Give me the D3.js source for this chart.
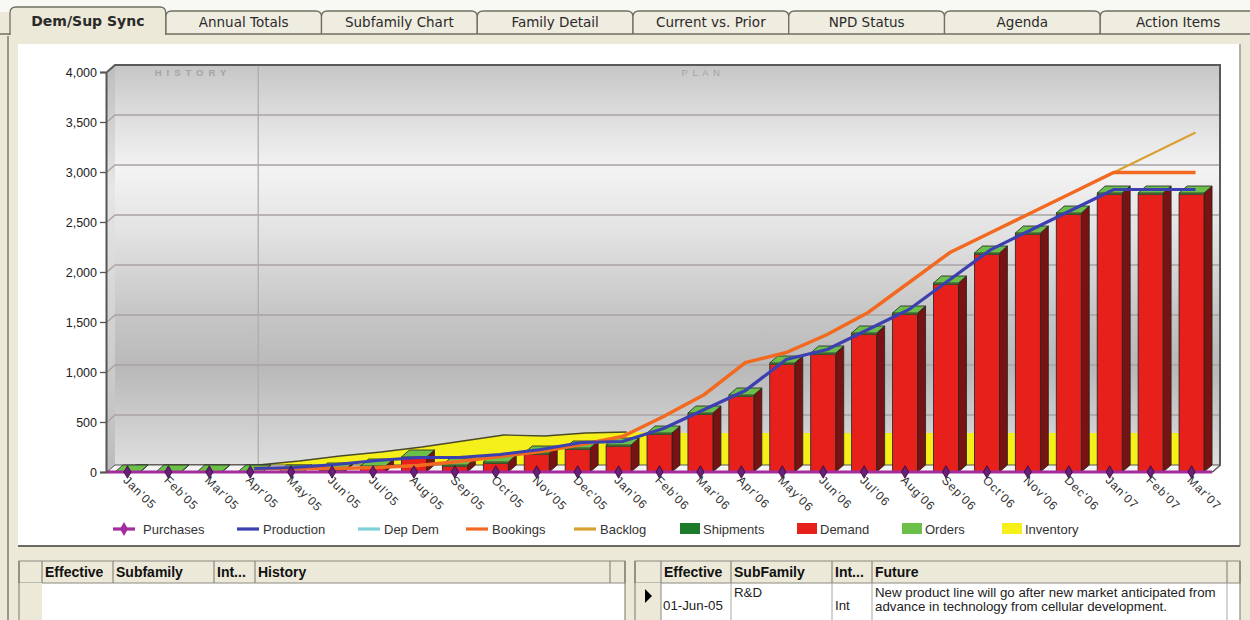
<!DOCTYPE html>
<html>
<head>
<meta charset="utf-8">
<script src="https://cdn.jsdelivr.net/npm/d3@7"></script>
<style>
  body { margin: 0; background: #ece9d8; }
  svg { display: block; font-family: "Liberation Sans", Arial, sans-serif; }
</style>
</head>
<body>
<svg id="chart" width="1250" height="620"></svg>
<script>
// ---- data ----
var tabs = ["Dem/Sup Sync", "Annual Totals", "Subfamily Chart", "Family Detail",
            "Current vs. Prior", "NPD Status", "Agenda", "Action Items"];

var months = ["Jan'05","Feb'05","Mar'05","Apr'05","May'05","Jun'05","Jul'05","Aug'05","Sep'05",
              "Oct'05","Nov'05","Dec'05","Jan'06","Feb'06","Mar'06","Apr'06","May'06","Jun'06",
              "Jul'06","Aug'06","Sep'06","Oct'06","Nov'06","Dec'06","Jan'07","Feb'07","Mar'07"];

var demand    = [0,0,0,0,0,10,45,135,55,85,175,225,255,375,575,755,1075,1175,1375,1575,1875,2175,2375,2575,2775,2775,2775];
var orders    = [0,0,0,0,0,10,15,15,15,15,15,15,15,15,15,15,15,15,15,15,15,15,15,15,15,15,15];
var inventory = [0,0,0,0,40,90,130,180,240,300,290,320,330,320,320,320,320,320,320,320,320,320,320,320,320,320,320];
var production= [null,null,null,0,10,40,80,110,110,140,190,260,270,400,590,780,1090,1190,1390,1590,1890,2190,2390,2590,2790,2790,2790];
var bookings  = [null,null,null,0,0,0,10,30,70,120,170,240,320,520,740,1060,1160,1340,1560,1860,2160,2360,2560,2760,2960,2960,2960];
var backlog   = [null,null,null,0,0,0,10,30,70,120,170,240,320,520,740,1060,1160,1340,1560,1860,2160,2360,2560,2760,2960,3160,3360];
var purchases = [0,0,0,0,0,0,0,0,0,0,0,0,0,0,0,0,0,0,0,0,0,0,0,0,0,0,0];
var yTicks    = [0,500,1000,1500,2000,2500,3000,3500,4000];

var legendItems = [
  {name:"Purchases",  type:"marker", color:"#a42c9e"},
  {name:"Production", type:"line",   color:"#3b3fb0"},
  {name:"Dep Dem",    type:"line",   color:"#7fd0d8"},
  {name:"Bookings",   type:"line",   color:"#f26a21"},
  {name:"Backlog",    type:"line",   color:"#d9a032"},
  {name:"Shipments",  type:"box",    color:"#1b7a2c"},
  {name:"Demand",     type:"box",    color:"#e8201c"},
  {name:"Orders",     type:"box",    color:"#6cc04a"},
  {name:"Inventory",  type:"box",    color:"#f5ef1a"}
];
var legendX = [113,237,358,466,574,680,797,902,1002];

var leftCols  = ["", "Effective", "Subfamily", "Int...", "History", ""];
var leftEdges = [19, 42, 113, 214, 255, 610, 625];
var rightCols = ["", "Effective", "SubFamily", "Int...", "Future", ""];
var rightEdges= [635, 661, 731, 832, 872, 1227, 1240];
var rightRow  = {eff:"01-Jun-05", sub:"R&D", int:"Int",
                 fut:["New product line will go after new market anticipated from",
                      "advance in technology from cellular development."]};

var svg = d3.select("#chart");

//****PAGE FRAME
svg.append("rect").attr("width",1250).attr("height",620).attr("fill","#ece9d8");
svg.append("rect").attr("width",1250).attr("height",12).attr("fill","#f8f8f4");

var tabX = d3.scaleBand().domain(tabs).range([10, 1256]);
function tabPath(x0, x1, yt, yb) {
  var r = 6;
  return "M"+x0+","+yb+" L"+x0+","+(yt+r)+" Q"+x0+","+yt+" "+(x0+r)+","+yt+
         " L"+(x1-r)+","+yt+" Q"+x1+","+yt+" "+x1+","+(yt+r)+" L"+x1+","+yb;
}
var tabG = svg.append("g");
tabG.selectAll("path.tab")
  .data(tabs.slice(1))
  .enter().append("path")
  .attr("class","tab")
  .attr("d", function(d){ return tabPath(tabX(d), tabX(d)+tabX.bandwidth(), 11, 34); })
  .attr("fill","#efece0").attr("stroke","#6f6f62").attr("stroke-width",1.3);
tabG.append("line").attr("x1",0).attr("x2",1250).attr("y1",34).attr("y2",34)
  .attr("stroke","#6f6f62").attr("stroke-width",1.6);
// active tab
tabG.append("path")
  .attr("d", tabPath(tabX(tabs[0]), tabX(tabs[0])+tabX.bandwidth(), 7, 36) + " Z")
  .attr("fill","#ece9d8").attr("stroke","none");
tabG.append("path")
  .attr("d", tabPath(tabX(tabs[0]), tabX(tabs[0])+tabX.bandwidth(), 7, 35))
  .attr("fill","none").attr("stroke","#6f6f62").attr("stroke-width",1.3);
tabG.selectAll("text")
  .data(tabs).enter().append("text")
  .attr("x", function(d){ return tabX(d)+tabX.bandwidth()/2; })
  .attr("y", function(d,i){ return i===0 ? 26 : 27; })
  .attr("text-anchor","middle")
  .style("font-family","'DejaVu Sans', Verdana, sans-serif")
  .style("font-size", function(d,i){ return i===0 ? "14px" : "13.5px"; })
  .style("font-weight", function(d,i){ return i===0 ? "bold" : "normal"; })
  .attr("fill","#2a2a2a")
  .text(function(d){ return d; });

// window frame line on the left
svg.append("line").attr("x1",8).attr("x2",8).attr("y1",36).attr("y2",620)
  .attr("stroke","#7a7a70").attr("stroke-width",1.5);

// chart panel
svg.append("rect").attr("x",18).attr("y",44).attr("width",1222).attr("height",502)
  .attr("fill","#fff");
svg.append("line").attr("x1",1240).attr("x2",1240).attr("y1",44).attr("y2",546)
  .attr("stroke","#9a9a90").attr("stroke-width",1.5);
svg.append("line").attr("x1",18).attr("x2",1240).attr("y1",546).attr("y2",546)
  .attr("stroke","#6a6a60").attr("stroke-width",2);

//****SCALES
var dx = 8, dy = 7;   // 3d depth
var x = d3.scaleBand().domain(months).range([107, 1212]);
var y = d3.scaleLinear().domain([0, 4000]).range([472, 72]);
var cx = function(i){ return x(months[i]) + x.bandwidth()/2; };
var barW = 25;
var x0 = x.range()[0], x1 = x.range()[1], y0 = y(0), yTop = y(4000);

//****BACK WALL
var defs = svg.append("defs");
var wallGrad = defs.append("linearGradient").attr("id","wall")
  .attr("x1",0).attr("y1",0).attr("x2",0).attr("y2",1);
[[0,"#c6c6c6"],[0.12,"#dcdcdc"],[0.26,"#f3f3f3"],[0.42,"#e2e2e2"],[0.62,"#c6c6c6"],
 [0.76,"#b9b9b9"],[0.88,"#cbcbcb"],[1,"#dedede"]].forEach(function(s){
  wallGrad.append("stop").attr("offset",s[0]).attr("stop-color",s[1]);
});
var sideGrad = defs.append("linearGradient").attr("id","side")
  .attr("x1",0).attr("y1",0).attr("x2",0).attr("y2",1);
sideGrad.append("stop").attr("offset",0).attr("stop-color","#bdbdbd");
sideGrad.append("stop").attr("offset",0.3).attr("stop-color","#e6e6e6");
sideGrad.append("stop").attr("offset",1).attr("stop-color","#bcbcbc");

var plot = svg.append("g");
plot.append("rect")
  .attr("x", x0+dx).attr("y", yTop-dy).attr("width", x1-x0).attr("height", y0-yTop)
  .attr("fill","url(#wall)");
// left wall
plot.append("path")
  .attr("d","M"+x0+","+y0+" L"+(x0+dx)+","+(y0-dy)+" L"+(x0+dx)+","+(yTop-dy)+" L"+x0+","+yTop+" Z")
  .attr("fill","url(#side)");

// gridlines on wall
plot.selectAll("path.grid")
  .data(yTicks.slice(1, -1))
  .enter().append("path")
  .attr("class","grid")
  .attr("d", function(v){ return "M"+x0+","+y(v)+" L"+(x0+dx)+","+(y(v)-dy)+" L"+(x1+dx)+","+(y(v)-dy); })
  .attr("fill","none").attr("stroke","#aaa3a3").attr("stroke-width",1.3);

// history / plan divider
var divX = cx(3) + dx;
plot.append("line").attr("x1",divX).attr("x2",divX).attr("y1",yTop-dy).attr("y2",y0-dy)
  .attr("stroke","#b3abab").attr("stroke-width",1.3);
plot.append("text").attr("x",193).attr("y",76).attr("text-anchor","middle")
  .style("font-size","9.5px").style("font-weight","bold").style("letter-spacing","5px")
  .attr("fill","#a4a4a4").text("HISTORY");
plot.append("text").attr("x",703).attr("y",76).attr("text-anchor","middle")
  .style("font-size","9.5px").style("letter-spacing","4.5px")
  .attr("fill","#a4a4a4").text("PLAN");

// frame of wall
plot.append("path")
  .attr("d","M"+x0+","+yTop+" L"+(x0+dx)+","+(yTop-dy)+" L"+(x1+dx)+","+(yTop-dy)+" L"+(x1+dx)+","+(y0-dy)+" L"+x1+","+y0)
  .attr("fill","none").attr("stroke","#5a5a5a").attr("stroke-width",2);

//****INVENTORY area (on the back plane)
var invArea = d3.area()
  .x(function(d,i){ return cx(i) + dx; })
  .y0(y0 - dy)
  .y1(function(d){ return y(d) - dy; });
var invLine = d3.line()
  .x(function(d,i){ return cx(i) + dx; })
  .y(function(d){ return y(d) - dy; });
plot.append("path").datum(inventory).attr("d", invArea).attr("fill","#f5ef1a");
plot.append("path").datum(inventory.slice(0, 13)).attr("d", invLine)
  .attr("fill","none").attr("stroke","#4a4a2a").attr("stroke-width",1.3);

//****FLOOR
plot.append("path")
  .attr("d","M"+x0+","+y0+" L"+(x0+dx)+","+(y0-dy)+" L"+(x1+dx)+","+(y0-dy)+" L"+x1+","+y0+" Z")
  .attr("fill","#f4f4f4").attr("stroke","#555").attr("stroke-width",1);

//****BARS
var bars = plot.selectAll("g.bar")
  .data(months)
  .enter().append("g").attr("class","bar");

bars.each(function(m, i){
  var g = d3.select(this);
  var l = cx(i) - barW/2, r = cx(i) + barW/2;
  var yd = y(demand[i]), yt = y(demand[i] + orders[i]);
  // side face
  g.append("path")
    .attr("d","M"+r+","+y0+" L"+(r+dx)+","+(y0-dy)+" L"+(r+dx)+","+(yt-dy)+" L"+r+","+yt+" Z")
    .attr("fill","#771313").attr("stroke","#222").attr("stroke-width",0.8);
  // front: demand
  if (demand[i] > 0) {
    g.append("rect").attr("x",l).attr("y",yd).attr("width",barW).attr("height",y0-yd)
      .attr("fill","#e8201c").attr("stroke","#222").attr("stroke-width",0.8);
  }
  // front: orders slice
  if (orders[i] > 0) {
    g.append("rect").attr("x",l).attr("y",yt).attr("width",barW).attr("height",yd-yt)
      .attr("fill","#6cc04a").attr("stroke","#222").attr("stroke-width",0.5);
  }
  // top face
  g.append("path")
    .attr("d","M"+l+","+yt+" L"+(l+dx)+","+(yt-dy)+" L"+(r+dx)+","+(yt-dy)+" L"+r+","+yt+" Z")
    .attr("fill","#6cc04a").attr("stroke","#222").attr("stroke-width",0.8);
});

//****LINES (mid depth)
var midLine = d3.line()
  .defined(function(d){ return d !== null; })
  .x(function(d,i){ return cx(i) + dx/2; })
  .y(function(d){ return y(d) - dy/2; });

plot.append("path").datum(backlog).attr("d", midLine)
  .attr("fill","none").attr("stroke","#d9a032").attr("stroke-width",2.2);
plot.append("path").datum(bookings).attr("d", midLine)
  .attr("fill","none").attr("stroke","#f26a21").attr("stroke-width",3.5);
plot.append("path").datum(production).attr("d", midLine)
  .attr("fill","none").attr("stroke","#3b3fb0").attr("stroke-width",3.2);

// purchases on the front edge
plot.append("path").datum(purchases)
  .attr("d", d3.line().x(function(d,i){ return i===0 ? x0 : (i===purchases.length-1 ? x1 : cx(i)); }).y(function(d){ return y(d); }))
  .attr("fill","none").attr("stroke","#a42c9e").attr("stroke-width",3);
plot.selectAll("path.dot")
  .data(purchases)
  .enter().append("path").attr("class","dot")
  .attr("transform", function(d,i){ return "translate(" + cx(i) + "," + y(d) + ")"; })
  .attr("d", d3.symbol(d3.symbolDiamond, 45))
  .attr("fill","#6b1f7a").attr("stroke","#300838").attr("stroke-width",0.8);

//****AXES
var yAxis = d3.axisLeft(y).tickValues(yTicks).tickSize(6).tickFormat(d3.format(","));
var yg = svg.append("g").attr("transform","translate(" + (x0-1) + ",0)").call(yAxis);
yg.select(".domain").attr("stroke","#555").attr("stroke-width",2);
yg.selectAll(".tick line").attr("stroke","#555").attr("stroke-width",1.3);
yg.selectAll(".tick text").attr("x",-9).attr("fill","#222")
  .style("font-size","12.5px").style("font-family","'Liberation Sans', Arial, sans-serif");

svg.append("g").selectAll("text")
  .data(months).enter().append("text")
  .attr("transform", function(d,i){ return "translate(" + (cx(i)-5) + "," + (y0+9) + ") rotate(45)"; })
  .attr("fill","#333")
  .style("font-size","12px").style("letter-spacing","1px")
  .text(function(d){ return d; });

//****LEGEND
var lg = svg.append("g").attr("transform","translate(0,529)");
legendItems.forEach(function(it, i){
  var lx = legendX[i];
  if (it.type === "box") {
    lg.append("rect").attr("x",lx).attr("y",-6).attr("width",20).attr("height",11)
      .attr("fill",it.color);
    lg.append("text").attr("x",lx+23).attr("y",4.5).text(it.name);
  } else {
    lg.append("line").attr("x1",lx).attr("x2",lx+22).attr("y1",0).attr("y2",0)
      .attr("stroke",it.color).attr("stroke-width",3.2);
    if (it.type === "marker") {
      lg.append("path").attr("transform","translate(" + (lx+11) + ",0)")
        .attr("d", d3.symbol(d3.symbolDiamond, 55)).attr("fill",it.color);
      lg.append("text").attr("x",lx+30).attr("y",4.5).text(it.name);
    } else {
      lg.append("text").attr("x",lx+26).attr("y",4.5).text(it.name);
    }
  }
});
lg.selectAll("text").attr("fill","#333").style("font-size","13px");

//****NOTE TABLES
function drawTable(edges, cols, headTop, headBot) {
  var t = svg.append("g");
  var xa = edges[0], xb = edges[edges.length-1];
  t.append("rect").attr("x",xa).attr("y",headBot).attr("width",xb-xa).attr("height",620-headBot)
    .attr("fill","#fff");
  t.append("rect").attr("x",xa).attr("y",headTop).attr("width",xb-xa).attr("height",headBot-headTop)
    .attr("fill","#ece9d8").attr("stroke","#8a8a80").attr("stroke-width",1);
  // row header column stays beige
  t.append("rect").attr("x",xa).attr("y",headBot).attr("width",edges[1]-xa).attr("height",620-headBot)
    .attr("fill","#ece9d8");
  t.selectAll("line.col").data(edges).enter().append("line").attr("class","col")
    .attr("x1",function(d){ return d; }).attr("x2",function(d){ return d; })
    .attr("y1",headTop).attr("y2",headBot).attr("stroke","#8a8a80").attr("stroke-width",1.2);
  t.append("line").attr("x1",xa).attr("x2",xa).attr("y1",headTop).attr("y2",620)
    .attr("stroke","#8a8a80").attr("stroke-width",1.2);
  t.append("line").attr("x1",xb).attr("x2",xb).attr("y1",headTop).attr("y2",620)
    .attr("stroke","#8a8a80").attr("stroke-width",1.2);
  t.selectAll("text.head").data(cols).enter().append("text").attr("class","head")
    .attr("x",function(d,i){ return edges[i]+3; }).attr("y",headBot-6)
    .style("font-size","14px").style("font-weight","bold").attr("fill","#111")
    .text(function(d){ return d; });
  return t;
}
drawTable(leftEdges, leftCols, 561, 583);
var rt = drawTable(rightEdges, rightCols, 561, 583);
// data row of the right table
rt.append("line").attr("x1",rightEdges[1]).attr("x2",rightEdges[1]).attr("y1",583).attr("y2",620).attr("stroke","#8a8a80");
[2,3,4,5].forEach(function(k){
  rt.append("line").attr("x1",rightEdges[k]).attr("x2",rightEdges[k]).attr("y1",583).attr("y2",620)
    .attr("stroke","#a8a8a0").attr("stroke-width",1);
});
rt.append("path").attr("d","M645,589 L652,596 L645,603 Z").attr("fill","#000");
rt.append("text").attr("x",rightEdges[1]+2).attr("y",610).text(rightRow.eff);
rt.append("text").attr("x",rightEdges[2]+3).attr("y",597).text(rightRow.sub);
rt.append("text").attr("x",rightEdges[3]+3).attr("y",610).text(rightRow.int);
rt.append("text").attr("x",rightEdges[4]+3).attr("y",597).text(rightRow.fut[0]);
rt.append("text").attr("x",rightEdges[4]+3).attr("y",611).text(rightRow.fut[1]);
rt.selectAll("text:not(.head)").style("font-size","13.3px").attr("fill","#222");
</script>
</body>
</html>
